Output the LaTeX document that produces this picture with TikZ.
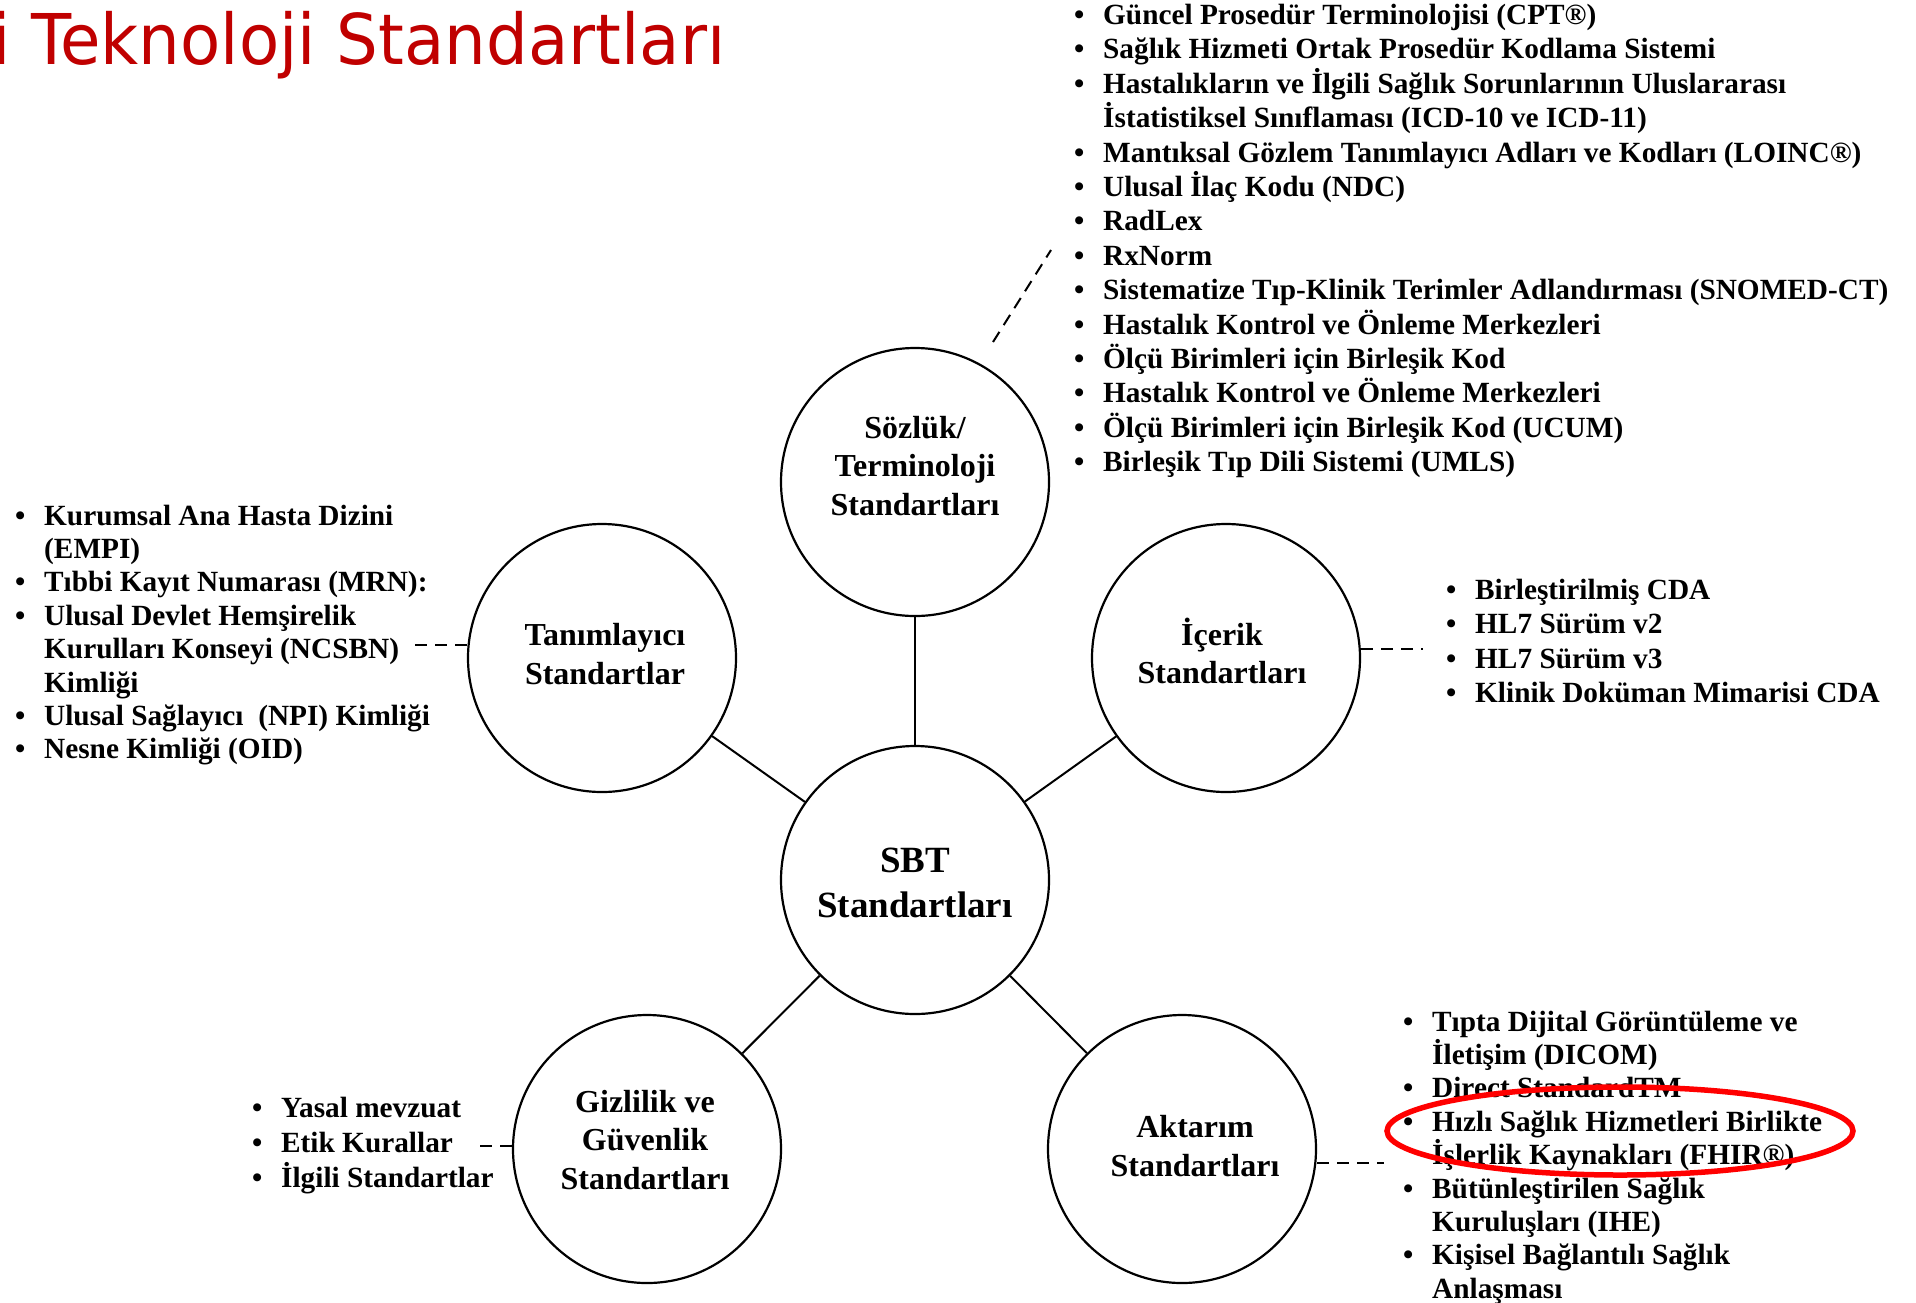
\documentclass[tikz,border=0pt]{standalone}
\usepackage{fontspec}
\setmainfont{Liberation Serif}
\newfontfamily\titlefont[FakeStretch=0.94]{DejaVu Sans}
\definecolor{titlered}{RGB}{192,0,0}
\definecolor{markred}{RGB}{255,0,0}
\newcommand\bitem[1]{\hbox{\makebox[29pt][l]{\textbullet}#1}}
\newcommand\citem[1]{\hbox{\hspace*{29pt}#1}}
\begin{document}
\begin{tikzpicture}[x=1pt,y=-1pt,
  circ/.style={circle, draw, line width=2.2pt, minimum size=268pt, inner sep=0pt},
  lbl/.style={font=\bfseries\fontsize{32}{38.5}\selectfont, align=center, inner sep=0pt},
  biglbl/.style={font=\bfseries\fontsize{37}{45}\selectfont, align=center, inner sep=0pt},
  lst/.style={font=\bfseries\fontsize{29.3}{#1}\selectfont, anchor=base west, inner sep=0pt},
  conn/.style={line width=2pt},
  dconn/.style={line width=2pt, dash pattern=on 12pt off 8pt}
]
\useasboundingbox (0,0) rectangle (1916,1302);
\fill[white] (0,0) rectangle (1916,1302);

% title
\node[anchor=base west, font=\titlefont\fontsize{70}{84}\selectfont, text=titlered, inner sep=0pt] (title) at (-8,64) {i Teknoloji Standartları};

% circles
\node[circ] (soz) at (915,482) {};
\node[circ] (tan) at (602,658) {};
\node[circ] (ice) at (1226,658) {};
\node[circ] (sbt) at (915,880) {};
\node[circ] (giz) at (647,1149) {};
\node[circ] (akt) at (1182,1149) {};

% circle labels
\node[lbl] (soz-t) at (915,466) {Sözlük/\\Terminoloji\\Standartları};
\node[lbl] (tan-t) at (605,654) {Tanımlayıcı\\Standartlar};
\node[lbl] (ice-t) at (1222,651) {İçerik\\Standartları};
\node[biglbl] (sbt-t) at (915,883) {SBT\\Standartları};
\node[lbl] (giz-t) at (645,1140) {Gizlilik ve\\Güvenlik\\Standartları};
\node[lbl] (akt-t) at (1195,1146) {Aktarım\\Standartları};

% solid connectors
\draw[conn] (sbt) -- (soz);
\draw[conn] (sbt) -- (tan);
\draw[conn] (sbt) -- (ice);
\draw[conn] (sbt) -- (giz);
\draw[conn] (sbt) -- (akt);

% lists
\node[lst=34.4] (soz-l) at (1074,24.5) {\vtop{%
\bitem{Güncel Prosedür Terminolojisi (CPT®)}
\bitem{Sağlık Hizmeti Ortak Prosedür Kodlama Sistemi}
\bitem{Hastalıkların ve İlgili Sağlık Sorunlarının Uluslararası}
\citem{İstatistiksel Sınıflaması (ICD-10 ve ICD-11)}
\bitem{Mantıksal Gözlem Tanımlayıcı Adları ve Kodları (LOINC®)}
\bitem{Ulusal İlaç Kodu (NDC)}
\bitem{RadLex}
\bitem{RxNorm}
\bitem{Sistematize Tıp-Klinik Terimler Adlandırması (SNOMED-CT)}
\bitem{Hastalık Kontrol ve Önleme Merkezleri}
\bitem{Ölçü Birimleri için Birleşik Kod}
\bitem{Hastalık Kontrol ve Önleme Merkezleri}
\bitem{Ölçü Birimleri için Birleşik Kod (UCUM)}
\bitem{Birleşik Tıp Dili Sistemi (UMLS)}}};

\node[lst=33.4] (tan-l) at (15,525) {\vtop{%
\bitem{Kurumsal Ana Hasta Dizini}
\citem{(EMPI)}
\bitem{Tıbbi Kayıt Numarası (MRN):}
\bitem{Ulusal Devlet Hemşirelik}
\citem{Kurulları Konseyi (NCSBN)}
\citem{Kimliği}
\bitem{Ulusal Sağlayıcı\ \ (NPI) Kimliği}
\bitem{Nesne Kimliği (OID)}}};

\node[lst=34.6] (ice-l) at (1446,599) {\vtop{%
\bitem{Birleştirilmiş CDA}
\bitem{HL7 Sürüm v2}
\bitem{HL7 Sürüm v3}
\bitem{Klinik Doküman Mimarisi CDA}}};

\node[lst=35] (giz-l) at (252,1117) {\vtop{%
\bitem{Yasal mevzuat}
\bitem{Etik Kurallar}
\bitem{İlgili Standartlar}}};

\node[lst=33.4] (akt-l) at (1403,1031) {\vtop{%
\bitem{Tıpta Dijital Görüntüleme ve}
\citem{İletişim (DICOM)}
\bitem{Direct StandardTM}
\bitem{Hızlı Sağlık Hizmetleri Birlikte}
\citem{İşlerlik Kaynakları (FHIR®)}
\bitem{Bütünleştirilen Sağlık}
\citem{Kuruluşları (IHE)}
\bitem{Kişisel Bağlantılı Sağlık}
\citem{Anlaşması}}};

% dashed connectors
\coordinate (sozA) at (993,342);
\coordinate (sozB) at (1051,250);
\draw[dconn] (sozA) -- (sozB);
\coordinate (tanD) at (411,645);
\draw[dconn] (tanD -| tan.west) -- (tanD);
\coordinate (iceD) at (1423,649);
\draw[dconn] (iceD -| ice.east) -- (iceD);
\coordinate (gizD) at (479,1146);
\draw[dconn] (gizD -| giz.west) -- (gizD);
\coordinate (aktD) at (1384,1163);
\draw[dconn] (aktD -| akt.east) -- (aktD);

% red highlight
\draw[markred, line width=5.5pt] (1620,1131) ellipse [x radius=233, y radius=44];
\end{tikzpicture}
\end{document}
